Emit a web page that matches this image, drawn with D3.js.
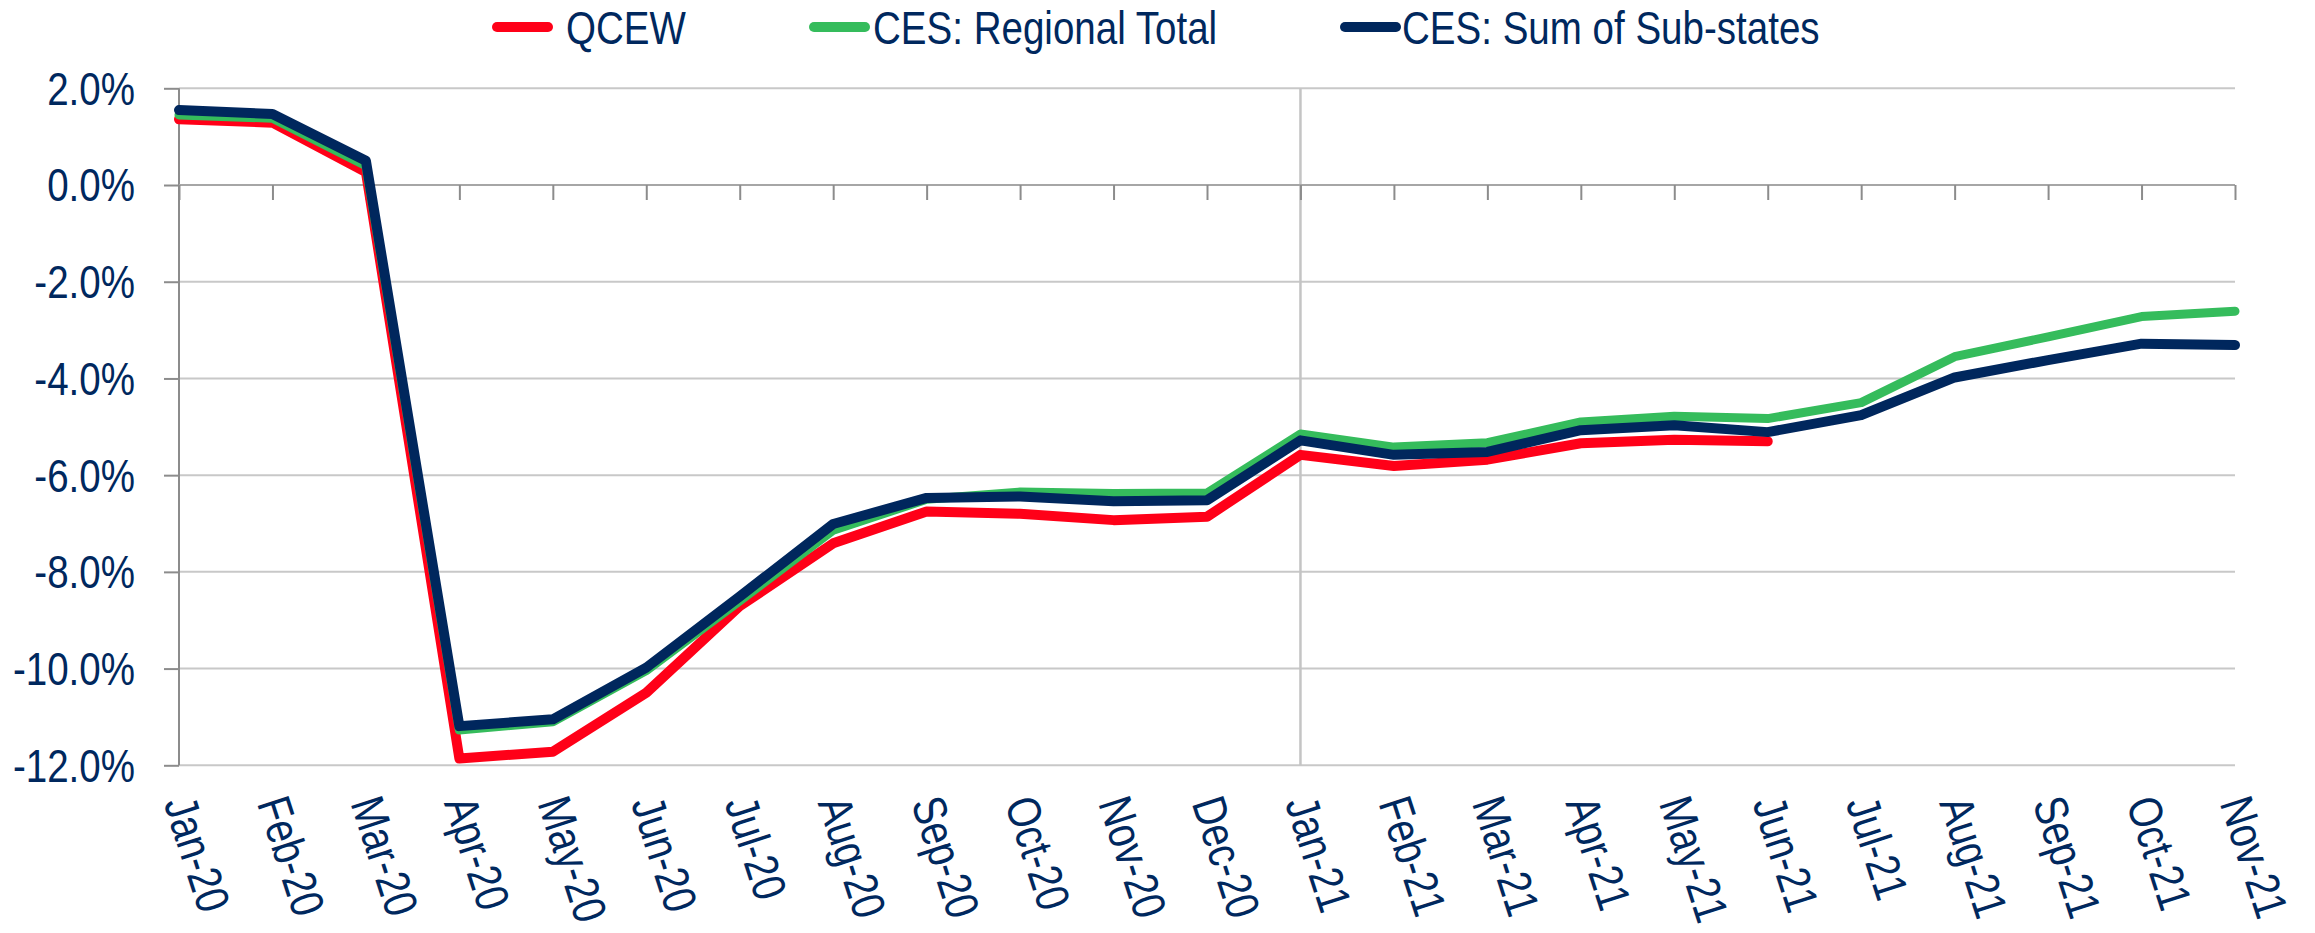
<!DOCTYPE html>
<html>
<head>
<meta charset="utf-8">
<script src="https://cdn.jsdelivr.net/npm/d3@7"></script>
<style>
  html, body { margin: 0; padding: 0; background: #ffffff; }
  svg { display: block; }
</style>
</head>
<body>
<div id="chart"></div>
<script>
// ---------------- DATA ----------------
const months = ["Jan-20","Feb-20","Mar-20","Apr-20","May-20","Jun-20","Jul-20","Aug-20","Sep-20","Oct-20","Nov-20","Dec-20",
                "Jan-21","Feb-21","Mar-21","Apr-21","May-21","Jun-21","Jul-21","Aug-21","Sep-21","Oct-21","Nov-21"];
const qcew = [1.36, 1.29, 0.27, -11.86, -11.72, -10.50, -8.71, -7.41, -6.75, -6.80, -6.93, -6.86,
              -5.58, -5.81, -5.68, -5.34, -5.27, -5.30];
const cesRegional = [1.45, 1.38, 0.40, -11.27, -11.10, -10.04, -8.60, -7.14, -6.50, -6.35, -6.38, -6.37,
                     -5.15, -5.42, -5.33, -4.90, -4.78, -4.83, -4.50, -3.55, -3.14, -2.72, -2.61];
const cesSubstates = [1.55, 1.47, 0.50, -11.19, -11.05, -9.98, -8.51, -7.01, -6.47, -6.44, -6.54, -6.52,
                      -5.28, -5.58, -5.52, -5.07, -4.97, -5.11, -4.76, -3.98, -3.62, -3.28, -3.31];
const seriesNames = ["QCEW", "CES: Regional Total", "CES: Sum of Sub-states"];
const yTickValues = [2, 0, -2, -4, -6, -8, -10, -12];
const yTickLabels = ["2.0%", "0.0%", "-2.0%", "-4.0%", "-6.0%", "-8.0%", "-10.0%", "-12.0%"];
const markerMonth = "Jan-21";

// ---------------- STYLE / LAYOUT ----------------
const W = 2315, H = 933;
const plot = { left: 179, right: 2235, top: 88.3, bottom: 765.3 };
const colors = { qcew: "#ff0018", reg: "#35bc5c", sub: "#00275d", text: "#00285e" };
const fontSize = 47;

// font detection: use a narrow face if present, otherwise squeeze Liberation Sans
const hasNarrow = (() => {
  const c = document.createElement("canvas").getContext("2d");
  c.font = "40px 'Liberation Sans Narrow', monospace";
  const a = c.measureText("QCEW Regional Total").width;
  c.font = "40px monospace";
  const b = c.measureText("QCEW Regional Total").width;
  return Math.abs(a - b) > 0.5;
})();
const fam = hasNarrow ? "'Liberation Sans Narrow', 'Arial Narrow', sans-serif" : "'Liberation Sans', Arial, sans-serif";
const sx = hasNarrow ? 1 : 0.82;

const svg = d3.select("#chart").append("svg").attr("width", W).attr("height", H);

const x = d3.scalePoint().domain(months).range([plot.left, plot.right]);
const y = d3.scaleLinear().domain([-12, 2]).range([plot.bottom, plot.top]);

// gridlines
svg.append("g").selectAll("line").data(yTickValues).join("line")
  .attr("x1", plot.left).attr("x2", plot.right)
  .attr("y1", d => y(d)).attr("y2", d => y(d))
  .attr("stroke", "#c8c8c8").attr("stroke-width", 2);

// vertical marker at Jan-21
svg.append("line")
  .attr("x1", x(markerMonth)).attr("x2", x(markerMonth))
  .attr("y1", plot.top).attr("y2", plot.bottom)
  .attr("stroke", "#c4c4c4").attr("stroke-width", 2.5);

// y axis (line + outer ticks) via d3.axisLeft
const yAxis = d3.axisLeft(y).tickValues(yTickValues).tickSize(15).tickFormat("");
const gy = svg.append("g").attr("transform", `translate(${plot.left},0)`).call(yAxis);
gy.select(".domain").attr("stroke", "#8c8c8c").attr("stroke-width", 2).attr("d", `M0,${plot.top}V${plot.bottom}`);
gy.selectAll(".tick line").attr("stroke", "#8c8c8c").attr("stroke-width", 2);

// y labels
svg.append("g").selectAll("text").data(yTickValues).join("text")
  .attr("transform", d => `translate(135,${y(d)}) scale(${sx},1)`)
  .attr("text-anchor", "end").attr("dominant-baseline", "central")
  .attr("font-family", fam).attr("font-size", fontSize).attr("fill", colors.text)
  .text((d, i) => yTickLabels[i]);

// x axis at 0 with ticks downward
const xAxis = d3.axisBottom(x).tickSize(15).tickFormat("");
const gx = svg.append("g").attr("transform", `translate(0,${y(0)})`).call(xAxis);
gx.select(".domain").attr("stroke", "#a6a6a6").attr("stroke-width", 2).attr("d", `M${plot.left},0H${plot.right}`);
gx.selectAll(".tick line").attr("stroke", "#8c8c8c").attr("stroke-width", 2);

// x labels (rotated)
svg.append("g").selectAll("text").data(months).join("text")
  .attr("transform", d => `translate(${x(d)},798) rotate(72) scale(${sx},1)`)
  .attr("text-anchor", "start").attr("dominant-baseline", "central")
  .attr("font-family", fam).attr("font-size", fontSize).attr("fill", colors.text)
  .text(d => d);

// lines
const line = d3.line().x((d, i) => x(months[i])).y(d => y(d));
const series = [
  { vals: qcew, color: colors.qcew, w: 10 },
  { vals: cesRegional, color: colors.reg, w: 9 },
  { vals: cesSubstates, color: colors.sub, w: 10 }
];
svg.append("g").selectAll("path").data(series).join("path")
  .attr("d", d => line(d.vals))
  .attr("fill", "none").attr("stroke", d => d.color).attr("stroke-width", d => d.w)
  .attr("stroke-linejoin", "round").attr("stroke-linecap", "round");

// legend
const legendLayout = [
  { sw: 492, tx: 566 },
  { sw: 809, tx: 873 },
  { sw: 1340, tx: 1402 }
];
const legendColors = [colors.qcew, colors.reg, colors.sub];
const lg = svg.append("g");
seriesNames.forEach((name, i) => {
  const L = legendLayout[i];
  lg.append("line").attr("x1", L.sw + 5).attr("x2", L.sw + 56).attr("y1", 27).attr("y2", 27)
    .attr("stroke", legendColors[i]).attr("stroke-width", 10).attr("stroke-linecap", "round");
  lg.append("text").attr("transform", `translate(${L.tx},44) scale(${sx},1)`)
    .attr("font-family", fam).attr("font-size", fontSize).attr("fill", colors.text)
    .text(name);
});
</script>
</body>
</html>
